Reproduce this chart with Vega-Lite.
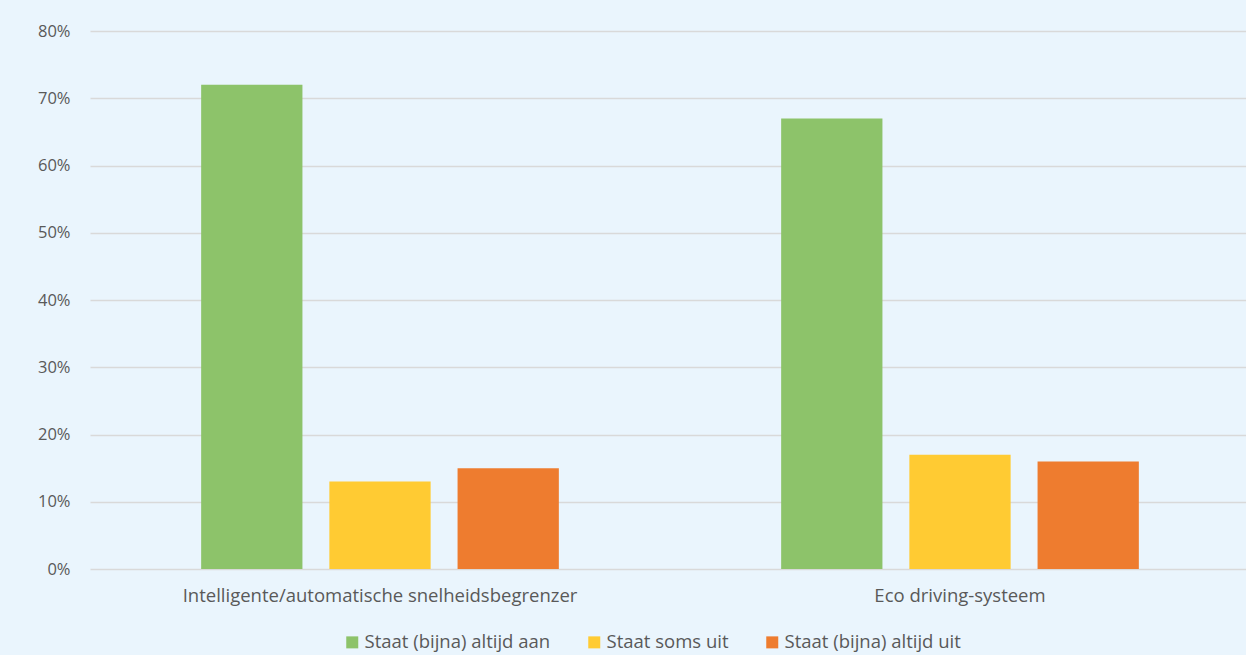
{
  "$schema": "https://vega.github.io/schema/vega-lite/v6.json",
  "autosize": "none",
  "width": 1160,
  "height": 538,
  "padding": {"left": 90, "top": 31, "right": 0, "bottom": 86},
  "background": "#EAF5FD",
  "config": {
    "view": {"stroke": null},
    "font": "Open Sans"
  },
  "data": {
    "values": [
      {"categorie": "Intelligente/automatische snelheidsbegrenzer", "antwoord": "Staat (bijna) altijd aan", "aandeel": 0.72},
      {"categorie": "Intelligente/automatische snelheidsbegrenzer", "antwoord": "Staat soms uit", "aandeel": 0.13},
      {"categorie": "Intelligente/automatische snelheidsbegrenzer", "antwoord": "Staat (bijna) altijd uit", "aandeel": 0.15},
      {"categorie": "Eco driving-systeem", "antwoord": "Staat (bijna) altijd aan", "aandeel": 0.67},
      {"categorie": "Eco driving-systeem", "antwoord": "Staat soms uit", "aandeel": 0.17},
      {"categorie": "Eco driving-systeem", "antwoord": "Staat (bijna) altijd uit", "aandeel": 0.16}
    ]
  },
  "mark": {"type": "bar"},
  "encoding": {
    "x": {
      "field": "categorie",
      "type": "nominal",
      "sort": null,
      "scale": {"paddingInner": 0, "paddingOuter": 0},
      "axis": {
        "title": null,
        "labelAngle": 0,
        "domain": false,
        "ticks": false,
        "labelFontSize": 18.5,
        "labelColor": "#595959",
        "labelPadding": 17,
        "labelLimit": 0
      }
    },
    "xOffset": {
      "field": "antwoord",
      "type": "nominal",
      "sort": null,
      "scale": {"paddingInner": 0.21, "paddingOuter": 0.867}
    },
    "y": {
      "field": "aandeel",
      "type": "quantitative",
      "scale": {"domain": [0, 0.8]},
      "axis": {
        "title": null,
        "format": ".0%",
        "values": [0, 0.1, 0.2, 0.3, 0.4, 0.5, 0.6, 0.7, 0.8],
        "domain": false,
        "ticks": false,
        "labelFontSize": 16.5,
        "labelColor": "#595959",
        "labelPadding": 20,
        "gridColor": "#D9D9D9",
        "gridWidth": 1.5
      }
    },
    "color": {
      "field": "antwoord",
      "type": "nominal",
      "sort": null,
      "scale": {
        "domain": ["Staat (bijna) altijd aan", "Staat soms uit", "Staat (bijna) altijd uit"],
        "range": ["#8DC36A", "#FFCB33", "#EE7C2F"]
      },
      "legend": {
        "title": null,
        "orient": "none",
        "direction": "horizontal",
        "legendX": 253,
        "legendY": 602,
        "symbolType": "square",
        "symbolSize": 144,
        "symbolStrokeWidth": 0,
        "labelFontSize": 18.5,
        "labelColor": "#595959",
        "labelLimit": 0,
        "columnPadding": 34,
        "labelOffset": 3
      }
    }
  }
}
